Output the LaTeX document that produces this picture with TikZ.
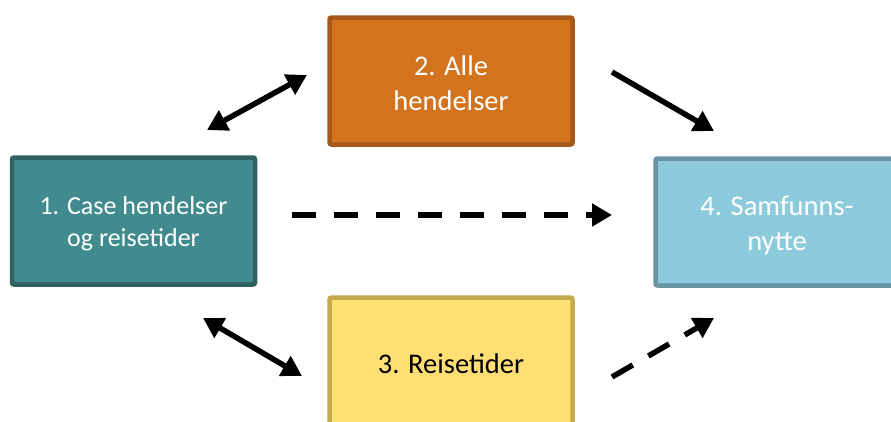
\documentclass[tikz,border=0pt]{standalone}
\usepackage{fontspec}
\setmainfont{Carlito}
\usetikzlibrary{arrows.meta}
\definecolor{tealfill}{HTML}{418A8D}
\definecolor{tealline}{HTML}{2F6163}
\definecolor{orfill}{HTML}{D4731E}
\definecolor{orline}{HTML}{A6581A}
\definecolor{yefill}{HTML}{FFDF73}
\definecolor{yeline}{HTML}{C4A94F}
\definecolor{blfill}{HTML}{8CCADC}
\definecolor{blline}{HTML}{6994A3}
\tikzset{
  box/.style={rectangle, rounded corners=2pt, line width=4.5pt, minimum width=243pt, minimum height=127pt, inner sep=0pt, align=center, font=\fontsize{28.5}{35}\selectfont},
  lbl/.style={inner sep=0pt, align=center, font=\fontsize{28.5}{35}\selectfont},
  arr/.style={line width=5.5pt, -{Triangle[length=20pt,width=22pt]}},
  darr/.style={line width=5.5pt, {Triangle[length=20pt,width=22pt]}-{Triangle[length=20pt,width=22pt]}},
  dasharr/.style={arr, dash pattern=on 24pt off 18pt},
}
\begin{document}
\begin{tikzpicture}[x=1pt,y=-1pt]
\useasboundingbox (0,0) rectangle (891,421);
\clip (0,0) rectangle (891,421);
\fill[white] (0,0) rectangle (891,421);
\node[box, draw=tealline, fill=tealfill] (b1) at (133.5,221) {};
\node[box, draw=orline, fill=orfill] (b2) at (451,81) {};
\node[box, draw=yeline, fill=yefill] (b3) at (451,361) {};
\node[box, draw=blline, fill=blfill] (b4) at (777,222) {};
\node[lbl, text=white, font=\fontsize{26}{32}\selectfont] (t1) at (133.5,224) {1. Case hendelser\\og reisetider};
\node[lbl, text=white] (t2) at (451,83) {2. Alle\\hendelser};
\node[lbl, text=black] (t3) at (451,364) {3. Reisetider};
\node[lbl, text=white] (t4) at (777,226) {4. Samfunns-\\nytte};
\coordinate (a1s) at (207,130);
\coordinate (a1e) at (307,75);
\coordinate (a2s) at (612,72);
\coordinate (a2e) at (714,131);
\coordinate (a3s) at (292,215);
\coordinate (a3e) at (612,215);
\coordinate (a4s) at (203,318);
\coordinate (a4e) at (302,376);
\coordinate (a5s) at (612,377);
\coordinate (a5e) at (714,318);
\draw[darr] (a1s) -- (a1e);
\draw[arr] (a2s) -- (a2e);
\draw[dasharr] (a3s) -- (a3e);
\draw[darr] (a4s) -- (a4e);
\draw[dasharr] (a5s) -- (a5e);
\end{tikzpicture}
\end{document}
